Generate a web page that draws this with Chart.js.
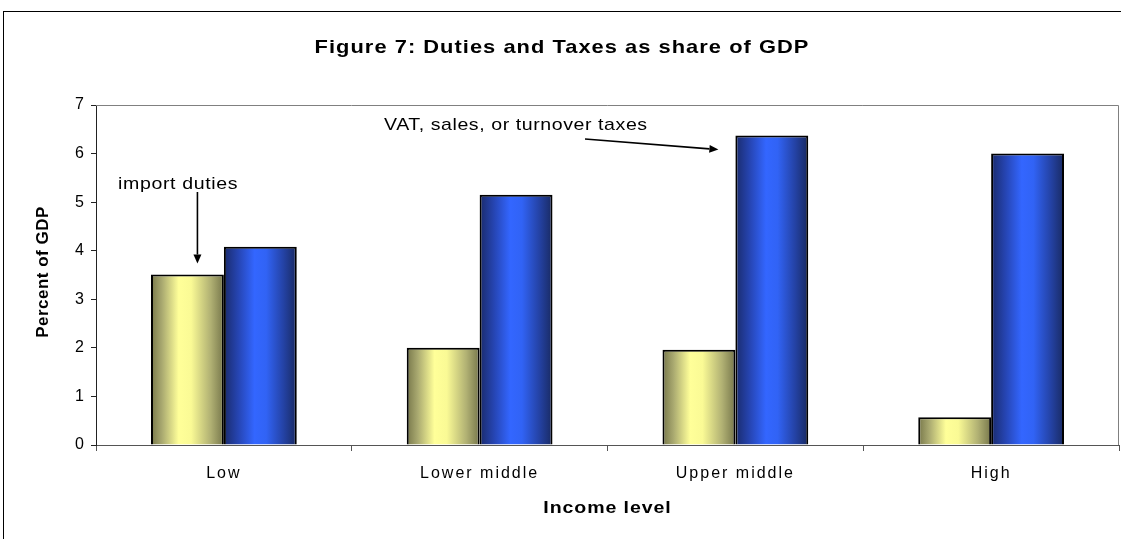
<!DOCTYPE html>
<html>
<head>
<meta charset="utf-8">
<script src="https://cdn.jsdelivr.net/npm/chart.js@4.4.1/dist/chart.umd.min.js"></script>
<style>
  html, body { margin: 0; padding: 0; background: #fff; overflow: hidden; }
  #frame {
    position: absolute; left: 3px; top: 11px;
    width: 1200px; height: 600px;
    border: 1.5px solid #000;
  }
  #chart { position: absolute; left: 0; top: 0; }
</style>
</head>
<body>
<div id="frame"></div>
<canvas id="chart" width="1121" height="539"></canvas>
<script>
/* ---------- data ---------- */
const categories = ["Low", "Lower middle", "Upper middle", "High"];
const importDuties = [3.51, 2.0, 1.96, 0.57];
const vatTaxes = [4.08, 5.15, 6.37, 6.0];
const yTicks = [0, 1, 2, 3, 4, 5, 6, 7];

const FONT = "'Liberation Sans', Arial, sans-serif";
const GROUP = 0.57;

const yellowStops = [[0, "#77774a"], [0.15, "#a9a970"], [0.38, "#ffff99"], [0.55, "#fafa95"], [0.82, "#b0b073"], [1, "#76764b"]];
const blueStops = [[0, "#1a2b6c"], [0.2, "#2645b3"], [0.42, "#3366ff"], [0.58, "#3163f5"], [0.82, "#2442a4"], [1, "#192a62"]];

// horizontal "cylinder" gradient per bar, positioned from the x scale
function barFill(stops) {
  return function (ctx) {
    const chart = ctx.chart;
    const x = chart.scales && chart.scales.x;
    if (!x || ctx.dataIndex === undefined || !x.width) return stops[2][1];
    const center = x.getPixelForValue(ctx.dataIndex);
    const group = (x.width / categories.length) * GROUP;
    const left = center - group / 2 + ctx.datasetIndex * group / 2;
    const g = chart.ctx.createLinearGradient(left, 0, left + group / 2, 0);
    stops.forEach(s => g.addColorStop(s[0], s[1]));
    return g;
  };
}

function arrow(c, x1, y1, x2, y2) {
  const a = Math.atan2(y2 - y1, x2 - x1);
  const len = 9, half = 4;
  c.beginPath();
  c.moveTo(x1, y1);
  c.lineTo(x2 - len * Math.cos(a), y2 - len * Math.sin(a));
  c.lineWidth = 1.6;
  c.strokeStyle = "#000";
  c.stroke();
  c.beginPath();
  c.moveTo(x2, y2);
  c.lineTo(x2 - len * Math.cos(a) + half * Math.sin(a), y2 - len * Math.sin(a) - half * Math.cos(a));
  c.lineTo(x2 - len * Math.cos(a) - half * Math.sin(a), y2 - len * Math.sin(a) + half * Math.cos(a));
  c.closePath();
  c.fillStyle = "#000";
  c.fill();
}

// text a bit stretched sideways, like the Excel export
function wideText(c, text, x, y, sx, spacing) {
  c.save();
  c.translate(x, y);
  c.scale(sx, 1);
  c.letterSpacing = spacing + "px";
  c.fillText(text, 0, 0);
  c.restore();
}

/* ---------- plot frame, titles, annotations ---------- */
const decor = {
  id: "decor",
  beforeDraw(chart) {
    chart.ctx.letterSpacing = "2px";
  },
  beforeDatasetsDraw(chart) {
    const c = chart.ctx, a = chart.chartArea;
    c.save();
    c.strokeStyle = "#808080";
    c.lineWidth = 1;
    c.beginPath();
    c.moveTo(a.left, a.top + 0.5);
    c.lineTo(a.right - 0.5, a.top + 0.5);
    c.lineTo(a.right - 0.5, a.bottom);
    c.stroke();
    c.restore();
  },
  afterDraw(chart) {
    const c = chart.ctx, a = chart.chartArea;
    c.save();
    c.fillStyle = "#000";
    c.textAlign = "center";
    c.textBaseline = "middle";

    c.font = "bold 19px " + FONT;
    wideText(c, "Figure 7: Duties and Taxes as share of GDP", 562, 48, 1.15, 0.9);

    c.font = "bold 17px " + FONT;
    wideText(c, "Income level", (a.left + a.right) / 2, 508, 1.15, 0.8);

    c.save();
    c.translate(43, (a.top + a.bottom) / 2 - 3);
    c.rotate(-Math.PI / 2);
    c.letterSpacing = "0.5px";
    c.fillText("Percent of GDP", 0, 0);
    c.restore();

    // annotations
    c.font = "17px " + FONT;
    c.textAlign = "left";
    c.textBaseline = "alphabetic";
    wideText(c, "import duties", 118, 189, 1.15, 0.55);
    wideText(c, "VAT, sales, or turnover taxes", 384, 130, 1.15, 0.5);

    const y = chart.scales.y;
    const imp = chart.getDatasetMeta(0).data[0];
    arrow(c, imp.x + 10, 192, imp.x + 10, y.getPixelForValue(importDuties[0]) - 11);
    const vat = chart.getDatasetMeta(1).data[2];
    arrow(c, 585, 139, vat.x - vat.width / 2 - 17, y.getPixelForValue(vatTaxes[2]) + 14);
    c.restore();
  }
};

new Chart(document.getElementById("chart"), {
  type: "bar",
  data: {
    labels: categories,
    datasets: [
      {
        label: "import duties",
        data: importDuties,
        backgroundColor: barFill(yellowStops),
        borderColor: "#000",
        borderWidth: 2,
        categoryPercentage: GROUP,
        barPercentage: 1
      },
      {
        label: "VAT, sales, or turnover taxes",
        data: vatTaxes,
        backgroundColor: barFill(blueStops),
        borderColor: "#000",
        borderWidth: 2,
        categoryPercentage: GROUP,
        barPercentage: 1
      }
    ]
  },
  options: {
    responsive: false,
    animation: false,
    devicePixelRatio: 1,
    layout: { padding: { top: 105, right: 2, left: 0, bottom: 0 } },
    plugins: {
      legend: { display: false },
      tooltip: { enabled: false },
      title: { display: false }
    },
    scales: {
      x: {
        afterFit(scale) { scale.height = 94; },
        grid: { display: true, offset: true, drawOnChartArea: false, tickLength: 6, color: "#555", lineWidth: 1 },
        border: { color: "#555", width: 1 },
        ticks: { color: "#000", font: { family: FONT, size: 16 }, padding: 13 }
      },
      y: {
        min: yTicks[0],
        max: yTicks[yTicks.length - 1],
        afterFit(scale) { scale.width = 96; },
        afterBuildTicks(scale) { scale.ticks = yTicks.map(v => ({ value: v })); },
        grid: { display: true, drawOnChartArea: false, tickLength: 5, color: "#222", lineWidth: 1 },
        border: { color: "#222", width: 1 },
        ticks: { color: "#000", font: { family: FONT, size: 16 }, padding: 5 }
      }
    }
  },
  plugins: [decor]
});
</script>
</body>
</html>
